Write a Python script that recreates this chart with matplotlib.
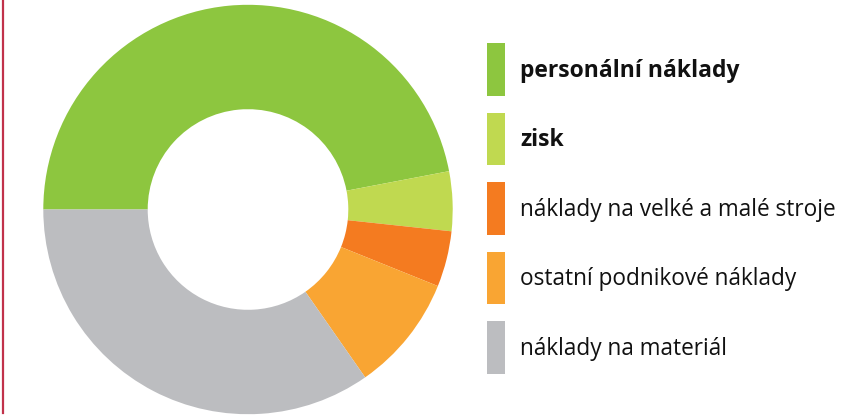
import matplotlib
matplotlib.use("Agg")
import matplotlib.pyplot as plt
from matplotlib.patches import Rectangle
from matplotlib.lines import Line2D

labels = ["personální náklady", "zisk", "náklady na velké a malé stroje",
          "ostatní podnikové náklady", "náklady na materiál"]
values = [47.0, 4.7, 4.4, 9.2, 34.7]
colors = ["#8DC63F", "#C0D950", "#F47B20", "#F9A533", "#BCBDC0"]
bold = [True, True, False, False, False]

W, H = 847, 416
fig = plt.figure(figsize=(W / 100, H / 100), dpi=100)
fig.patch.set_facecolor("white")

cx, cy, R = 248.0, 209.5, 204.7
ax = fig.add_axes([(cx - R) / W, (H - cy - R) / H, 2 * R / W, 2 * R / H])
ax.pie(values, colors=colors, startangle=180, counterclock=False, radius=1.0,
       wedgeprops=dict(width=0.51, edgecolor="none", linewidth=0))
ax.set_xlim(-1, 1)
ax.set_ylim(-1, 1)
ax.set_aspect("equal")
ax.axis("off")

# red vertical rule on the left
fig.add_artist(Line2D([3 / W, 3 / W], [1 - 413 / H, 1.0], color="#C1324A", linewidth=1.6))

# legend
top0, step, ph, pw, px = 43.3, 69.5, 52.5, 18.3, 486.7
for i, (lab, col, b) in enumerate(zip(labels, colors, bold)):
    y0 = top0 + i * step
    fig.add_artist(Rectangle((px / W, 1 - (y0 + ph) / H), pw / W, ph / H,
                             transform=fig.transFigure, facecolor=col, edgecolor="none"))
    fig.text(520 / W, 1 - (y0 + ph / 2 + 1) / H, lab, ha="left", va="center",
             fontsize=16.5 if b else 16.3, family="Open Sans", color="#111111",
             fontweight="bold" if b else "normal")

fig.savefig("out.png", dpi=100)
